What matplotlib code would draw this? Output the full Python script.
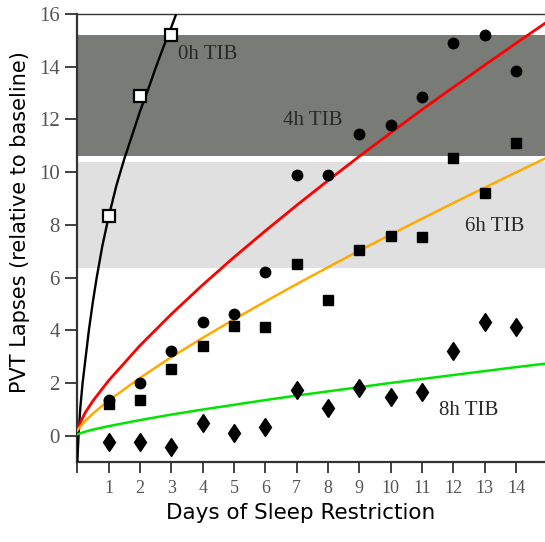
import matplotlib
matplotlib.use('Agg')
import matplotlib.pyplot as plt

# observed lapses per day of restriction
days = [1, 2, 3, 4, 5, 6, 7, 8, 9, 10, 11, 12, 13, 14]
tib0_days = [1, 2, 3]
tib0 = [8.35, 12.9, 15.2]
tib4 = [1.36, 2.0, 3.23, 4.3, 4.63, 6.21, 9.89, 9.89, 11.44, 11.8, 12.84, 14.89, 15.22, 13.84]
tib6 = [1.2, 1.37, 2.53, 3.41, 4.17, 4.12, 6.53, 5.16, 7.03, 7.57, 7.54, 10.52, 9.19, 11.09]
tib8 = [-0.25, -0.25, -0.44, 0.48, 0.09, 0.32, 1.75, 1.05, 1.81, 1.46, 1.65, 3.23, 4.31, 4.14]

# model curves
fit_t = [0, 0.25, 0.5, 1, 2, 3, 4, 5, 6, 7, 8, 9, 10, 11, 12, 13, 14, 15]
fit4 = [0.25, 0.87, 1.32, 2.09, 3.42, 4.61, 5.72, 6.77, 7.77, 8.74, 9.68, 10.6, 11.49, 12.37, 13.22, 14.06, 14.89, 15.71]
fit6 = [0.2, 0.56, 0.84, 1.33, 2.19, 2.98, 3.71, 4.41, 5.09, 5.75, 6.39, 7.02, 7.63, 8.23, 8.83, 9.41, 9.99, 10.56]
fit8 = [0.05, 0.15, 0.23, 0.36, 0.59, 0.8, 0.99, 1.17, 1.35, 1.52, 1.68, 1.84, 2.0, 2.15, 2.3, 2.45, 2.6, 2.74]
fit0_t = [0.0, 0.04, 0.1, 0.17, 0.27, 0.37, 0.5, 0.62, 0.8, 1.0, 1.25, 1.5, 1.75, 2.0, 2.25, 2.5, 2.75, 3.0, 3.25]
fit0 = [-1.0, 0.0, 1.1, 2.0, 3.0, 4.0, 5.1, 6.0, 7.2, 8.3, 9.5, 10.5, 11.4, 12.3, 13.1, 13.95, 14.75, 15.5, 16.3]

# shaded bands (0h and 6h ranges)
band_dark = (10.6, 15.2)
band_light = (6.36, 10.37)

fig = plt.figure(figsize=(5.45, 5.42), dpi=100)
ax = fig.add_axes([0.1418, 0.1476, 0.8626, 0.8266])

ax.axhspan(*band_dark, color='#787b76', lw=0, zorder=0)
ax.axhspan(*band_light, color='#e0e0e0', lw=0, zorder=0)

ax.plot(fit0_t, fit0, color='black', lw=1.7, zorder=3)
ax.plot(fit_t, fit4, color='#ff0000', lw=2.0, zorder=3)
ax.plot(fit_t, fit6, color='#ffaa00', lw=1.8, zorder=3)
ax.plot(fit_t, fit8, color='#00e400', lw=1.8, zorder=3)

ax.plot(tib0_days, tib0, 's', ms=8, mfc='white', mec='black', mew=1.6, zorder=4)
ax.plot(days, tib4, 'o', ms=7.5, color='black', zorder=4)
ax.plot(days, tib6, 's', ms=7.2, color='black', zorder=4)
ax.plot(days, tib8, 'd', ms=9.5, color='black', zorder=4)

serif = 'Liberation Serif'
txt = dict(family=serif, fontsize=15, color='#2a2a2a', va='center')
ax.text(3.22, 14.45, '0h TIB', **txt)
ax.text(6.55, 11.95, '4h TIB', **txt)
ax.text(12.37, 7.95, '6h TIB', **txt)
ax.text(11.55, 0.95, '8h TIB', **txt)

ax.set_xlim(0, 15)
ax.set_ylim(-1, 16)
ax.set_xticks(range(0, 15))
ax.set_xticklabels([''] + [str(d) for d in days])
ax.set_yticks(range(0, 17, 2))

for lab in ax.get_xticklabels():
    lab.set_family(serif)
    lab.set_fontsize(13)
    lab.set_color('#555555')
for lab in ax.get_yticklabels():
    lab.set_family(serif)
    lab.set_fontsize(15)
    lab.set_color('#555555')

ax.tick_params(axis='x', direction='out', length=8, width=1.3, color='#333333', pad=5)
ax.tick_params(axis='y', direction='out', length=9, width=1.3, color='#333333', pad=3.5)

ax.spines['right'].set_visible(False)
for s in ['left', 'bottom']:
    ax.spines[s].set_linewidth(1.6)
    ax.spines[s].set_color('#333333')
ax.spines['top'].set_linewidth(1.0)
ax.spines['top'].set_color('#333333')

ax.set_xlabel('Days of Sleep Restriction', family='DejaVu Sans', fontsize=15.5)
ax.set_ylabel('PVT Lapses (relative to baseline)', family='DejaVu Sans', fontsize=15)
ax.xaxis.set_label_coords(0.475, -0.092)
ax.yaxis.set_label_coords(-0.10, 0.535)

fig.savefig('out.png', dpi=100)
